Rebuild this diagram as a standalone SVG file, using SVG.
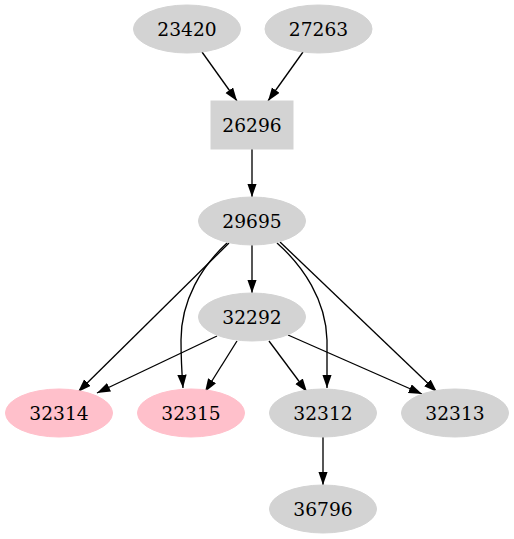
<svg xmlns="http://www.w3.org/2000/svg" width="514" height="539" viewBox="0 0 514 539">
<style>
.g{fill:#d3d3d3;stroke:#d3d3d3}
.p{fill:#ffc0cb;stroke:#ffc0cb}
text{font-family:"DejaVu Serif","Liberation Serif",serif;font-size:18.67px;text-anchor:middle;fill:#000}
.e{fill:none;stroke:#000;stroke-width:1.33;marker-end:url(#ah)}
</style>
<defs>
<marker id="ah" markerUnits="userSpaceOnUse" markerWidth="14" markerHeight="10" refX="13.3" refY="4.67" orient="auto">
<path d="M0,0 L13.3,4.67 L0,9.33 z" fill="#000"/>
</marker>
</defs>
<rect width="514" height="539" fill="#fff"/>
<g id="edges">
<path class="e" d="M202,52 L237,101"/>
<path class="e" d="M303,52 L268,101"/>
<path class="e" d="M252,149 L252,197"/>
<path class="e" d="M252,245 L252,293"/>
<path class="e" d="M229,243 L78,392"/>
<path class="e" d="M227,243 C202,266 181,300 181,340 C181,360 182,375 183,388"/>
<path class="e" d="M277,243 C303,266 326,300 327,340 C327,360 327,375 327,388"/>
<path class="e" d="M280,242 L437,392"/>
<path class="e" d="M217,336 L97,393"/>
<path class="e" d="M237,341 L205,392"/>
<path class="e" d="M269,341 L307,392"/>
<path class="e" d="M288,335 L422,394"/>
<path class="e" d="M323,437 L323,485"/>
</g>
<g id="n23420"><ellipse class="g" cx="187" cy="29" rx="53.5" ry="24"/><text x="187" y="35.5">23420</text></g>
<g id="n27263"><ellipse class="g" cx="318.5" cy="29" rx="53.5" ry="24"/><text x="318.5" y="35.5">27263</text></g>
<g id="n26296"><rect class="g" x="211" y="101" width="82" height="48"/><text x="252" y="131.5">26296</text></g>
<g id="n29695"><ellipse class="g" cx="252" cy="221" rx="53.5" ry="24"/><text x="252" y="227.5">29695</text></g>
<g id="n32292"><ellipse class="g" cx="252" cy="317" rx="53.5" ry="24"/><text x="252" y="323.5">32292</text></g>
<g id="n32314"><ellipse class="p" cx="59" cy="413" rx="53.5" ry="24"/><text x="59" y="419.5">32314</text></g>
<g id="n32315"><ellipse class="p" cx="191" cy="413" rx="53.5" ry="24"/><text x="191" y="419.5">32315</text></g>
<g id="n32312"><ellipse class="g" cx="323" cy="413" rx="53.5" ry="24"/><text x="323" y="419.5">32312</text></g>
<g id="n32313"><ellipse class="g" cx="455" cy="413" rx="53.5" ry="24"/><text x="455" y="419.5">32313</text></g>
<g id="n36796"><ellipse class="g" cx="323" cy="509" rx="53.5" ry="24"/><text x="323" y="515.5">36796</text></g>
</svg>
